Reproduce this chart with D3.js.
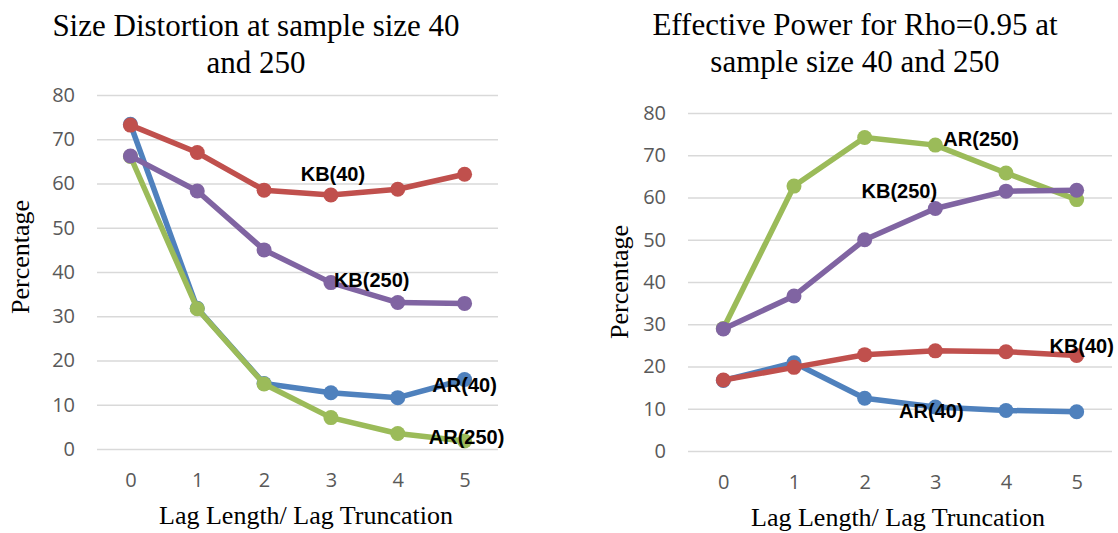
<!DOCTYPE html>
<html>
<head>
<meta charset="utf-8">
<script src="https://cdn.jsdelivr.net/npm/d3@7"></script>
<style>
  html, body { margin: 0; padding: 0; background: #ffffff; }
  svg { display: block; }
</style>
</head>
<body>
<svg id="chart" width="1118" height="533"></svg>
<script>
// ---------- data ----------
const lags = ["0", "1", "2", "3", "4", "5"];
const yTickValues = [0, 10, 20, 30, 40, 50, 60, 70, 80];
const seriesNames = ["AR(40)", "KB(40)", "AR(250)", "KB(250)"];

const sizeAR40  = [73.4, 31.8, 14.8, 12.7, 11.6, 15.7];
const sizeKB40  = [73.2, 67.0, 58.5, 57.4, 58.7, 62.1];
const sizeAR250 = [66.1, 31.7, 14.7, 7.1, 3.5, 1.8];
const sizeKB250 = [66.2, 58.3, 45.0, 37.6, 33.1, 32.9];

const powerAR40  = [16.7, 20.9, 12.5, 10.4, 9.6, 9.3];
const powerKB40  = [16.8, 19.8, 22.8, 23.7, 23.5, 22.6];
const powerAR250 = [29.0, 62.7, 74.2, 72.4, 65.8, 59.5];
const powerKB250 = [28.9, 36.7, 50.0, 57.4, 61.5, 61.7];

const leftTitle = ["Size Distortion at sample size 40", "and 250"];
const rightTitle = ["Effective Power for Rho=0.95 at", "sample size 40 and 250"];
const xTitle = "Lag Length/ Lag Truncation";
const yTitle = "Percentage";

// ---------- style ----------
const colors = { "AR(40)": "#4F81BD", "KB(40)": "#C0504D", "AR(250)": "#9BBB59", "KB(250)": "#8064A2" };
const serif = "'Liberation Serif', 'Times New Roman', Times, serif";
const svg = d3.select("#chart");

function drawChart(cfg) {
  const g = svg.append("g");
  const x = d3.scalePoint().domain(lags).range([cfg.x0, cfg.x1]).padding(0.5);
  const y = d3.scaleLinear().domain([0, 80]).range([cfg.yBottom, cfg.yTop]);

  // y axis with gridlines
  const ya = g.append("g")
    .attr("transform", `translate(${cfg.x0},0)`)
    .call(d3.axisLeft(y).tickValues(yTickValues).tickSize(-(cfg.x1 - cfg.x0)).tickPadding(22));
  ya.select(".domain").remove();
  ya.selectAll(".tick line").attr("stroke", "#d9d9d9").attr("stroke-width", 1.5);
  ya.selectAll(".tick text").attr("fill", "#595959").style("font-family", "'Open Sans', sans-serif").style("font-size", "20px");

  // x axis labels
  const xa = g.append("g")
    .attr("transform", `translate(0,${cfg.yBottom})`)
    .call(d3.axisBottom(x).tickSize(0).tickPadding(24));
  xa.select(".domain").remove();
  xa.selectAll(".tick text").attr("fill", "#595959").style("font-family", "'Open Sans', sans-serif").style("font-size", "20px");

  // series
  const line = d3.line().x((d, i) => x(lags[i])).y(d => y(d));
  cfg.series.forEach(s => {
    g.append("path").datum(s.values)
      .attr("d", line).attr("fill", "none")
      .attr("stroke", colors[s.name]).attr("stroke-width", 5.5)
      .attr("stroke-linejoin", "round");
    g.selectAll(null).data(s.values).enter().append("circle")
      .attr("cx", (d, i) => x(lags[i])).attr("cy", d => y(d))
      .attr("r", 7.5).attr("fill", colors[s.name]);
  });

  // data labels
  cfg.series.forEach(s => {
    const l = s.label;
    g.append("text")
      .attr("x", x(lags[l.idx]) + l.dx)
      .attr("y", y(s.values[l.idx]) + l.dy)
      .attr("text-anchor", l.anchor)
      .attr("dominant-baseline", "central")
      .style("font-family", "'Liberation Sans', Arial, sans-serif")
      .style("font-weight", "bold")
      .style("font-size", "20px")
      .attr("fill", "#000")
      .text(s.name);
  });

  // titles
  cfg.title.forEach((t, i) => {
    g.append("text")
      .attr("x", cfg.titleX).attr("y", cfg.titleY[i])
      .attr("text-anchor", "middle")
      .style("font-family", serif)
      .style("font-size", "31px").attr("fill", "#000")
      .text(t);
  });
  g.append("text")
    .attr("x", cfg.xTitleX).attr("y", cfg.xTitleY)
    .attr("text-anchor", "middle")
    .style("font-family", serif)
    .style("font-size", "26px").attr("fill", "#000")
    .text(xTitle);
  g.append("text")
    .attr("transform", `translate(${cfg.yTitleX},${cfg.yTitleY}) rotate(-90)`)
    .attr("text-anchor", "middle")
    .style("font-family", serif)
    .style("font-size", "26px").attr("fill", "#000")
    .text(yTitle);
}

drawChart({
  x0: 97, x1: 498, yTop: 95, yBottom: 449,
  title: leftTitle, titleX: 256, titleY: [36, 73],
  xTitleX: 306, xTitleY: 524, yTitleX: 29, yTitleY: 257,
  series: [
    { name: "AR(40)", values: sizeAR40, label: { idx: 5, dx: 0, dy: 5, anchor: "middle" } },
    { name: "KB(40)", values: sizeKB40, label: { idx: 3, dx: 2, dy: -21, anchor: "middle" } },
    { name: "AR(250)", values: sizeAR250, label: { idx: 5, dx: 2, dy: -4, anchor: "middle" } },
    { name: "KB(250)", values: sizeKB250, label: { idx: 3, dx: 3, dy: -3, anchor: "start" } }
  ]
});

drawChart({
  x0: 688, x1: 1112, yTop: 113, yBottom: 451,
  title: rightTitle, titleX: 855, titleY: [35, 72],
  xTitleX: 898, xTitleY: 526, yTitleX: 628, yTitleY: 282,
  series: [
    { name: "AR(40)", values: powerAR40, label: { idx: 3, dx: -4, dy: 4, anchor: "middle" } },
    { name: "KB(40)", values: powerKB40, label: { idx: 5, dx: 5, dy: -10, anchor: "middle" } },
    { name: "AR(250)", values: powerAR250, label: { idx: 3, dx: 8, dy: -6, anchor: "start" } },
    { name: "KB(250)", values: powerKB250, label: { idx: 3, dx: -36, dy: -17, anchor: "middle" } }
  ]
});
</script>
</body>
</html>
